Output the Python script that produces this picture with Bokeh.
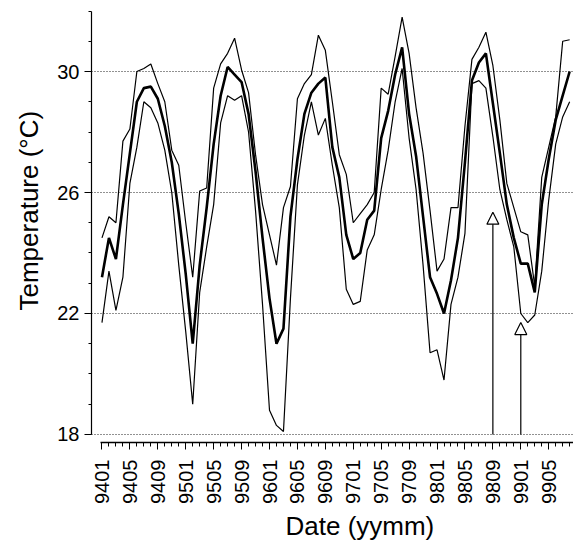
import math
from bokeh.plotting import figure
from bokeh.models import (ColumnDataSource, FixedTicker, Range1d, Title, Arrow, NormalHead)
from bokeh.embed import file_html
from bokeh.resources import INLINE

# ---- data (monthly, starting 9401) ----
tick_labels = ["9401", "9405", "9409", "9501", "9505", "9509", "9601", "9605", "9609",
               "9701", "9705", "9709", "9801", "9805", "9809", "9901", "9905"]

t_max = [24.5, 25.2, 25.0, 27.7, 28.1, 30.0, 30.1, 30.25, 29.6, 29.0, 27.4, 26.9,
         25.0, 23.2, 26.05, 26.15, 29.45, 30.25, 30.6, 31.1, 30.05, 29.3, 27.25, 25.6,
         24.6, 23.6, 25.5, 26.2, 29.1, 29.6, 29.9, 31.2, 30.7, 29.0, 27.25, 26.6,
         25.0, 25.3, 25.6, 26.0, 29.45, 29.25, 30.5, 31.8, 30.6, 28.8, 27.3, 25.4,
         23.4, 23.8, 25.5, 25.5, 28.2, 30.4, 30.8, 31.3, 30.2, 28.4, 26.3, 25.5,
         24.7, 24.6, 22.9, 26.5, 27.5, 28.5, 31.0, 31.05]

t_mean = [23.2, 24.5, 23.8, 25.6, 27.3, 29.0, 29.45, 29.5, 29.1, 28.2, 27.0, 25.3,
          23.3, 21.0, 23.6, 25.5, 27.6, 29.2, 30.15, 29.9, 29.65, 28.6, 26.7, 24.5,
          22.5, 21.0, 21.5, 25.2, 27.1, 28.6, 29.3, 29.6, 29.8, 27.5, 26.5, 24.6,
          23.8, 24.0, 25.1, 25.4, 27.8, 28.7, 29.9, 30.8, 28.6, 27.2, 25.2, 23.2,
          22.65, 22.0, 23.1, 24.5, 27.0, 29.7, 30.3, 30.6, 28.95, 27.3, 25.6, 24.5,
          23.65, 23.65, 22.7, 25.6, 27.1, 28.4, 29.2, 30.0]

t_min = [21.7, 23.4, 22.1, 23.2, 26.3, 27.5, 29.0, 28.8, 28.3, 27.4, 26.0, 23.6,
         21.4, 19.0, 22.7, 24.2, 25.6, 28.3, 29.2, 29.05, 29.2, 28.0, 25.4, 22.3,
         18.8, 18.3, 18.1, 22.5, 26.25, 27.9, 29.0, 27.9, 28.45, 26.9, 25.5, 22.8,
         22.3, 22.4, 24.1, 24.6, 26.1, 27.4, 29.0, 30.1, 27.8, 26.1, 23.6, 20.7,
         20.8, 19.8, 22.3, 23.2, 24.65, 29.6, 29.7, 29.45, 27.85, 26.1, 25.1, 24.2,
         22.0, 21.7, 21.95, 23.4, 25.75, 27.6, 28.5, 29.0]

y_major = [18, 22, 26, 30]
y_minor = list(range(18, 33))

arrow_months = ["9809", "9901"]
arrow_top = [25.35, 21.7]
arrow_base = [18, 18]

# ---- derived positions ----
n = len(t_mean)
month_idx = list(range(n))
tick_pos = [4 * k for k in range(len(tick_labels))]
arrow_x = [tick_pos[tick_labels.index(m)] for m in arrow_months]

src = ColumnDataSource(dict(x=month_idx, tmax=t_max, tmean=t_mean, tmin=t_min))

p = figure(width=573, height=543, output_backend="svg", toolbar_location=None,
           x_range=Range1d(-1.5, 67.55), y_range=Range1d(17.735, 32.05),
           min_border_left=91, min_border_right=0, min_border_top=9,
           min_border_bottom=101)
p.outline_line_color = None
p.background_fill_color = "white"
p.border_fill_color = "white"

p.line("x", "tmax", source=src, line_color="black", line_width=1.2)
p.line("x", "tmin", source=src, line_color="black", line_width=1.2)
p.line("x", "tmean", source=src, line_color="black", line_width=2.6)

# grid
p.xgrid.visible = False
p.ygrid.ticker = FixedTicker(ticks=y_major)
p.ygrid.grid_line_color = "#222222"
p.ygrid.grid_line_dash = "1 2"
p.ygrid.grid_line_width = 1

# axes
font = "Liberation Sans"
xa = p.xaxis[0]
xa.ticker = FixedTicker(ticks=tick_pos, minor_ticks=month_idx)
xa.major_label_overrides = {t: l for t, l in zip(tick_pos, tick_labels)}
xa.major_label_orientation = math.pi / 2
xa.major_label_text_font = font
xa.major_label_text_font_size = "20px"
xa.major_label_text_color = "black"
xa.major_label_standoff = 10
xa.major_tick_out = 7
xa.major_tick_in = 0
xa.minor_tick_out = 4
xa.minor_tick_in = 0
xa.axis_line_width = 1.5
xa.bounds = (-0.2, 67.55)
xa.axis_label = None

ya = p.yaxis[0]
ya.ticker = FixedTicker(ticks=y_major, minor_ticks=y_minor)
ya.major_label_text_font = font
ya.major_label_text_font_size = "20px"
ya.major_label_text_color = "black"
ya.major_label_standoff = 5
ya.major_tick_out = 7
ya.major_tick_in = 0
ya.minor_tick_out = 3
ya.minor_tick_in = 0
ya.axis_line_width = 1.2
ya.bounds = (18, 32)
ya.axis_label = None

p.add_layout(Title(text="Temperature (°C)", align="left", offset=132,
                   text_font=font, text_font_size="26px", text_font_style="normal",
                   text_color="black", standoff=22), "left")
p.add_layout(Title(text="Date (yymm)", align="left", offset=194,
                   text_font=font, text_font_size="26px", text_font_style="normal",
                   text_color="black", standoff=4), "below")

# arrows
asrc = ColumnDataSource(dict(x=arrow_x, y0=arrow_base, y1=arrow_top))
p.add_layout(Arrow(source=asrc, x_start="x", y_start="y0", x_end="x", y_end="y1",
                   line_color="black", line_width=1.2,
                   end=NormalHead(size=12, fill_color="white", line_color="black",
                                  line_width=1.2)))

open("out.html", "w").write(file_html(p, INLINE))
